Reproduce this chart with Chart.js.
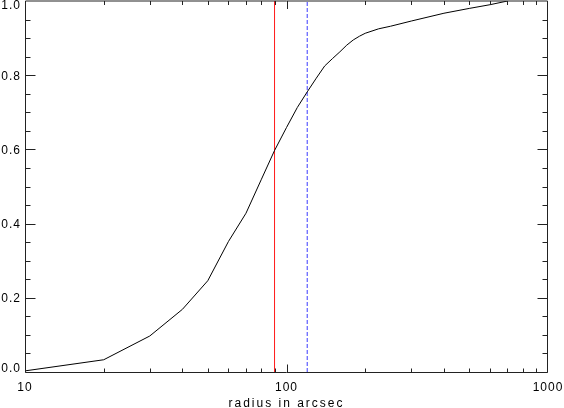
<!DOCTYPE html>
<html><head><meta charset="utf-8">
<script src="https://cdn.jsdelivr.net/npm/chart.js@4/dist/chart.umd.min.js"></script>
<style>html,body{margin:0;padding:0;background:#fff;overflow:hidden}#wrap{width:564px;height:408px}</style>
</head><body><div id="wrap"><canvas id="c" width="564" height="408"></canvas></div>
<script>
// ---- data ----
const radius   = [10, 20, 30, 40, 50, 60, 70, 80, 90, 100, 110, 120, 130, 140, 150, 160, 170, 180, 190, 200, 225, 250, 300, 400, 500, 600, 700];
const fraction = [0.003, 0.033, 0.097, 0.169, 0.246, 0.352, 0.428, 0.518, 0.597, 0.659, 0.713, 0.755, 0.792, 0.825, 0.845, 0.863, 0.881, 0.895, 0.905, 0.913, 0.925, 0.932, 0.946, 0.967, 0.980, 0.990, 1.0];
const redLineX  = 90;
const blueLineX = 120;
const xTickLabels = [10, 100, 1000];
const yTickLabels = [0.0, 0.2, 0.4, 0.6, 0.8, 1.0];
const xTitle = 'radius in arcsec';

const FONT = "'Liberation Sans', Arial, Helvetica, sans-serif";
const AX = '#222';

const curve = radius.map((r, i) => ({x: r, y: fraction[i]}));
const redLine  = [{x: redLineX, y: 0}, {x: redLineX, y: 1}];
const blueLine = [{x: blueLineX, y: 0}, {x: blueLineX, y: 1}];

function wrapScale(s, tickSpacing, titleSpacing) {
  if (s.__wrapped) return;
  s.__wrapped = true;
  const dl = s.drawLabels, dt = s.drawTitle;
  s.drawLabels = function (a) { const c = this.ctx; c.save(); c.letterSpacing = tickSpacing; dl.call(this, a); c.restore(); };
  s.drawTitle = function (a) { const c = this.ctx; c.save(); c.letterSpacing = titleSpacing; dt.call(this, a); c.restore(); };
}

const idlAxes = {
  id: 'idlAxes',
  beforeDraw(chart) {
    const xs = chart.scales.x, ys = chart.scales.y;
    wrapScale(xs, '1px', '2px');
    wrapScale(ys, '1px', '2px');
    const items = ys.getLabelItems();
    if (items && items.length) {
      items[0].options.translation[1] = ys.getPixelForValue(yTickLabels[0]) - 3;
      items[items.length - 1].options.translation[1] = ys.getPixelForValue(yTickLabels[yTickLabels.length - 1]) + 5;
    }
  },
  afterDraw(chart) {
    const {ctx, chartArea: a} = chart;
    const xs = chart.scales.x, ys = chart.scales.y;
    const L = Math.floor(a.left) + 0.5, R = Math.ceil(a.right) - 0.5;
    const B = Math.floor(a.bottom) + 0.5, T = a.top;
    ctx.save();
    ctx.strokeStyle = AX;
    ctx.lineWidth = 1;
    ctx.beginPath();
    ctx.moveTo(L, T); ctx.lineTo(R, T); ctx.lineTo(R, B); ctx.lineTo(L, B); ctx.closePath();
    // y ticks: major every 0.2, minor every 0.05, on left and right axes
    for (let k = 0; k < 20; k++) {
      const v = k * 0.05;
      const major = (k % 4 === 0);
      const len = major ? 10 : 5;
      const py = Math.round(ys.getPixelForValue(v)) + 0.5;
      ctx.moveTo(L, py); ctx.lineTo(L + len, py);
      ctx.moveTo(R, py); ctx.lineTo(R - len, py);
    }
    // x ticks (log decades with minor ticks), on bottom and top axes
    for (let d = 10; d <= 1000; d *= 10) {
      for (let m = 1; m <= 9; m++) {
        const v = d * m;
        if (v >= 1000 || v <= 10) continue;
        const major = (m === 1);
        const len = major ? 8 : 4;
        const px = Math.round(xs.getPixelForValue(v)) + 0.5;
        ctx.moveTo(px, B); ctx.lineTo(px, B - len);
        ctx.moveTo(px, T); ctx.lineTo(px, T + len);
      }
    }
    ctx.stroke();
    ctx.restore();
  }
};

new Chart(document.getElementById('c'), {
  type: 'line',
  data: {
    datasets: [
      {data: curve, borderColor: '#000', borderWidth: 1, pointRadius: 0, tension: 0, fill: false},
      {data: redLine, borderColor: '#ff1a1a', borderWidth: 1, pointRadius: 0, fill: false},
      {data: blueLine, borderColor: '#3a3aff', borderWidth: 1, borderDash: [4, 2], pointRadius: 0, fill: false}
    ]
  },
  options: {
    responsive: false,
    animation: false,
    devicePixelRatio: 1,
    layout: {padding: {top: 1, right: 16, left: 0, bottom: 0}},
    plugins: {legend: {display: false}, tooltip: {enabled: false}},
    scales: {
      x: {
        type: 'logarithmic', min: 10, max: 1000, position: 'bottom',
        grid: {display: false, drawTicks: false},
        border: {display: false},
        ticks: {
          autoSkip: false, maxRotation: 0, minRotation: 0, padding: 8, color: '#000',
          font: {family: FONT, size: 12},
          callback: (v) => xTickLabels.some(t => Math.abs(t - v) < 1e-6) ? String(v) : ''
        },
        title: {display: true, text: xTitle, color: '#000', font: {family: FONT, size: 12, lineHeight: 0.8}, padding: {top: 0, bottom: 0}},
        afterFit: (s) => { s.height = 36; s.paddingLeft = 0; s.paddingRight = 0; }
      },
      y: {
        type: 'linear', min: 0, max: 1,
        grid: {display: false, drawTicks: false},
        border: {display: false},
        ticks: {
          stepSize: 0.2, padding: 4, labelOffset: 1, color: '#000',
          font: {family: FONT, size: 12},
          callback: (v) => yTickLabels.some(t => Math.abs(t - v) < 1e-6) ? Number(v).toFixed(1) : ''
        },
        afterFit: (s) => { s.width = 25; s.paddingTop = 0; s.paddingBottom = 0; }
      }
    }
  },
  plugins: [idlAxes]
});
</script>
</body></html>
